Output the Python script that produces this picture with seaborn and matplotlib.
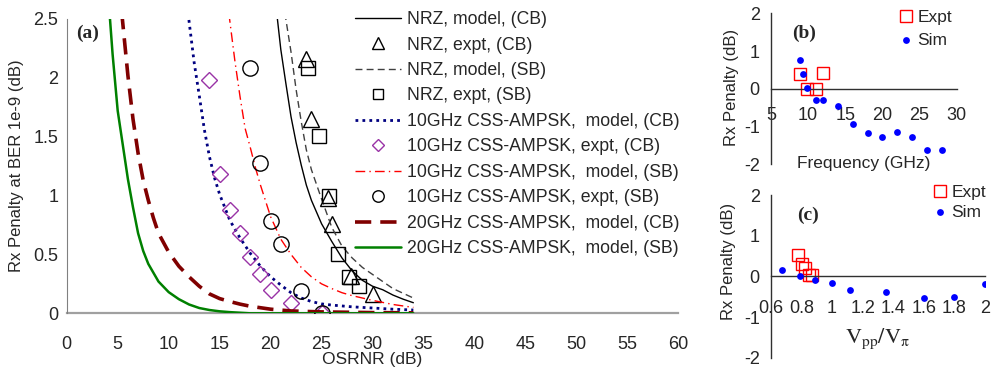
"""
Rx penalty vs OSRNR, plus penalty vs frequency and vs drive level.
"""

import matplotlib
matplotlib.use("Agg")
import matplotlib.pyplot as plt
from matplotlib.ticker import FuncFormatter, MultipleLocator
import seaborn as sns

# ------------------------------
# Data
# ------------------------------
# (a) model curves
osnr_nrz_cb = [20.6, 21, 21.5, 22, 22.5, 23, 23.5, 24, 25, 26, 27, 28, 29, 30, 31, 32, 33, 34]
pen_nrz_cb = [2.55, 2.24, 1.95, 1.67, 1.45, 1.26, 1.09, 0.96, 0.76, 0.61, 0.47, 0.36, 0.28, 0.23, 0.2, 0.155, 0.12, 0.09]

osnr_nrz_sb = [21.4, 22, 22.5, 23, 23.5, 24, 25, 26, 27, 28, 29, 30, 31, 32, 33, 34]
pen_nrz_sb = [2.55, 2.22, 1.9, 1.63, 1.39, 1.22, 0.97, 0.73, 0.57, 0.47, 0.39, 0.33, 0.27, 0.21, 0.17, 0.13]

osnr_10g_cb = [11.9, 12.5, 13, 13.5, 14, 14.5, 15, 16, 17, 18, 19, 20, 21, 22, 23, 24, 25, 26, 28, 30, 32, 34]
pen_10g_cb = [2.55, 2.13, 1.85, 1.56, 1.33, 1.15, 1.01, 0.79, 0.64, 0.51, 0.4, 0.31, 0.24, 0.175, 0.13, 0.1,
              0.08, 0.07, 0.055, 0.045, 0.035, 0.028]

osnr_10g_sb = [15.9, 16.5, 17, 17.5, 18, 18.5, 19, 20, 21, 22, 23, 24, 25, 26, 27, 28, 30, 32, 34]
pen_10g_sb = [2.55, 2.14, 1.84, 1.57, 1.41, 1.24, 1.09, 0.82, 0.63, 0.5, 0.39, 0.31, 0.25, 0.21, 0.175, 0.15,
              0.11, 0.075, 0.05]

osnr_20g_cb = [5.4, 6, 6.5, 7, 7.5, 8, 8.5, 9, 10, 11, 12, 13, 14, 15, 16, 17, 18, 20, 22, 25, 30, 34]
pen_20g_cb = [2.55, 2.02, 1.65, 1.36, 1.13, 0.96, 0.81, 0.68, 0.52, 0.4, 0.31, 0.23, 0.165, 0.125, 0.1,
              0.078, 0.06, 0.035, 0.02, 0.012, 0.006, 0.004]

osnr_20g_sb = [4.2, 4.5, 5, 5.5, 6, 6.5, 7, 7.5, 8, 9, 10, 11, 12, 13, 14, 15, 16, 17, 18, 20, 25, 30, 34]
pen_20g_sb = [2.55, 2.2, 1.72, 1.43, 1.14, 0.9, 0.68, 0.53, 0.42, 0.27, 0.18, 0.12, 0.075, 0.045, 0.028,
              0.017, 0.01, 0.005, 0.0, 0.0, 0.0, 0.0, 0.0]

# (a) measurements
osnr_nrz_cb_expt = [23.5, 24.0, 25.6, 26.0, 27.9, 30.0]
pen_nrz_cb_expt = [2.16, 1.65, 0.98, 0.76, 0.32, 0.16]

osnr_nrz_sb_expt = [23.7, 24.7, 25.7, 26.6, 27.7, 28.7]
pen_nrz_sb_expt = [2.08, 1.51, 1.0, 0.5, 0.31, 0.23]

osnr_10g_cb_expt = [14, 15, 16, 17, 18, 19, 20, 22, 25]
pen_10g_cb_expt = [1.98, 1.18, 0.88, 0.68, 0.48, 0.33, 0.2, 0.09, 0.0]

osnr_10g_sb_expt = [18, 19, 20, 21, 23, 25]
pen_10g_sb_expt = [2.08, 1.28, 0.78, 0.59, 0.19, 0.0]

# (b) penalty vs frequency
freq_sim = [8.9, 9.3, 9.9, 11, 12, 14, 16, 18, 20, 22, 24, 26, 28]
pen_freq_sim = [0.77, 0.38, 0.02, -0.3, -0.3, -0.46, -0.92, -1.18, -1.28, -1.15, -1.28, -1.63, -1.61]
freq_expt = [8.9, 9.9, 11, 12]
pen_freq_expt = [0.4, 0.0, 0.0, 0.42]

# (c) penalty vs Vpp/Vpi
vpp_sim = [0.67, 0.79, 0.89, 1.0, 1.12, 1.35, 1.6, 1.8, 2.0]
pen_vpp_sim = [0.15, 0.01, -0.09, -0.17, -0.33, -0.39, -0.53, -0.5, -0.2]
vpp_expt = [0.775, 0.8, 0.82, 0.85, 0.87]
pen_vpp_expt = [0.52, 0.3, 0.2, 0.03, 0.03]

# ------------------------------
# Style
# ------------------------------
sns.set_style("white")
plt.rcParams["font.family"] = ["Liberation Sans", "DejaVu Sans"]
plt.rcParams["font.size"] = 12
plt.rcParams["mathtext.fontset"] = "stix"

fmt = FuncFormatter(lambda v, _: f"{v:g}")
serif = ["Liberation Serif", "DejaVu Serif"]

fig = plt.figure(figsize=(9.93, 3.68), dpi=100)
ax_a = fig.add_axes([0.0672, 0.1486, 0.616, 0.7998])
ax_b = fig.add_axes([0.7764, 0.5535, 0.187, 0.4104])
ax_c = fig.add_axes([0.7764, 0.028, 0.2155, 0.4421])

# ------------------------------
# (a) main panel
# ------------------------------
open_mk = dict(linestyle="", mfc="none", mew=1.0, errorbar=None, sort=False)

sns.lineplot(x=osnr_nrz_cb, y=pen_nrz_cb, ax=ax_a, color="black", lw=1.0,
             label="NRZ, model, (CB)", errorbar=None)
sns.lineplot(x=osnr_nrz_cb_expt, y=pen_nrz_cb_expt, ax=ax_a, marker="^", ms=11,
             mec="black", color="black", label="NRZ, expt, (CB)", **open_mk)
sns.lineplot(x=osnr_nrz_sb, y=pen_nrz_sb, ax=ax_a, color="#404040", lw=1.0,
             ls=(0, (5, 3)), label="NRZ, model, (SB)", errorbar=None)
sns.lineplot(x=osnr_nrz_sb_expt, y=pen_nrz_sb_expt, ax=ax_a, marker="s", ms=10,
             mec="black", color="black", label="NRZ, expt, (SB)", **open_mk)
sns.lineplot(x=osnr_10g_cb, y=pen_10g_cb, ax=ax_a, color="#000080", lw=2.0,
             ls=(0, (1, 1.5)), label="10GHz CSS-AMPSK,  model, (CB)", errorbar=None)
sns.lineplot(x=osnr_10g_cb_expt, y=pen_10g_cb_expt, ax=ax_a, marker="D", ms=8,
             mec="#9933A6", color="#9933A6", label="10GHz CSS-AMPSK, expt, (CB)", **open_mk)
sns.lineplot(x=osnr_10g_sb, y=pen_10g_sb, ax=ax_a, color="red", lw=1.0,
             ls=(0, (7, 3, 1, 3)), label="10GHz CSS-AMPSK,  model, (SB)", errorbar=None)
sns.lineplot(x=osnr_10g_sb_expt, y=pen_10g_sb_expt, ax=ax_a, marker="o", ms=11,
             mec="black", color="black", label="10GHz CSS-AMPSK, expt, (SB)", **open_mk)
sns.lineplot(x=osnr_20g_cb, y=pen_20g_cb, ax=ax_a, color="#800000", lw=2.6,
             ls=(0, (4.5, 2.5)), label="20GHz CSS-AMPSK,  model, (CB)", errorbar=None)
sns.lineplot(x=osnr_20g_sb, y=pen_20g_sb, ax=ax_a, color="#008000", lw=1.8,
             label="20GHz CSS-AMPSK,  model, (SB)", errorbar=None)

ax_a.set_xlim(0, 60)
ax_a.set_ylim(0, 2.5)
ax_a.xaxis.set_major_locator(MultipleLocator(5))
ax_a.yaxis.set_major_locator(MultipleLocator(0.5))
ax_a.xaxis.set_major_formatter(fmt)
ax_a.yaxis.set_major_formatter(fmt)
for s in ["top", "right"]:
    ax_a.spines[s].set_visible(False)
ax_a.spines["left"].set_color("#808080")
ax_a.spines["bottom"].set_color("#a0a0a0")
ax_a.spines["bottom"].set_linewidth(1.6)
ax_a.spines["bottom"].set_zorder(0)
ax_a.tick_params(axis="x", direction="out", length=5, width=1, color="#404040", pad=11, labelsize=13)
ax_a.tick_params(axis="y", direction="out", length=4, width=1, color="#404040", pad=2, labelsize=13)
ax_a.set_xlabel("OSRNR (dB)", fontsize=12.5)
ax_a.set_ylabel("Rx Penalty at BER 1e-9 (dB)", fontsize=12)
ax_a.xaxis.set_label_coords(0.5, -0.13)
ax_a.yaxis.set_label_coords(-0.07, 0.5)

ax_a.legend(loc="upper left", bbox_to_anchor=(0.3575, 0.97), bbox_transform=fig.transFigure,
            frameon=False, fontsize=12.7, handlelength=2.6, handletextpad=0.35,
            labelspacing=0.48, borderpad=0, borderaxespad=0, markerscale=0.75)
fig.text(88 / 993, 1 - 33 / 368, "(a)", family=serif,
         weight="bold", fontsize=14, ha="center", va="center")


# ------------------------------
# (b) and (c) small panels
# ------------------------------
def small_panel(ax, xs, ys, xe, ye):
    sns.lineplot(x=xe, y=ye, ax=ax, marker="s", ms=8, mec="red", color="red",
                 label="Expt", **open_mk)
    sns.scatterplot(x=xs, y=ys, ax=ax, color="#0000ff", s=24, linewidth=0,
                    label="Sim", zorder=3)
    ax.set_ylim(-2, 2)
    ax.yaxis.set_major_locator(MultipleLocator(1))
    ax.xaxis.set_major_formatter(fmt)
    ax.yaxis.set_major_formatter(fmt)
    ax.spines["top"].set_visible(False)
    ax.spines["right"].set_visible(False)
    ax.spines["bottom"].set_position(("data", 0))
    for s in ["left", "bottom"]:
        ax.spines[s].set_color("#303030")
        ax.spines[s].set_linewidth(1.0)
    ax.tick_params(axis="y", direction="out", length=4, width=1, color="#303030", pad=4, labelsize=13)


small_panel(ax_b, freq_sim, pen_freq_sim, freq_expt, pen_freq_expt)
ax_b.set_xlim(5, 30)
ax_b.xaxis.set_major_locator(MultipleLocator(5))
ax_b.tick_params(axis="x", direction="out", length=4, width=1, color="#303030", pad=9, labelsize=13)
ax_b.set_xlabel("Frequency (GHz)", fontsize=12.5)
ax_b.set_ylabel("Rx Penalty (dB)", fontsize=12)
ax_b.xaxis.set_label_coords(0.5, 0.055)
ax_b.yaxis.set_label_coords(-0.17, 0.51)
ax_b.legend(loc="upper left", bbox_to_anchor=(0.9053, 0.972), bbox_transform=fig.transFigure,
            frameon=False, fontsize=12.5, handlelength=0.8, handletextpad=0.25,
            labelspacing=0.4, borderpad=0, borderaxespad=0)
fig.text(803.7 / 993, 1 - 33.3 / 368, "(b)", family=serif,
         weight="bold", fontsize=14, ha="center", va="center")

small_panel(ax_c, vpp_sim, pen_vpp_sim, vpp_expt, pen_vpp_expt)
ax_c.set_xlim(0.6, 2.0)
ax_c.xaxis.set_major_locator(MultipleLocator(0.2))
ax_c.tick_params(axis="x", direction="out", length=4, width=1, color="#303030", pad=13, labelsize=13)
ax_c.set_xlabel(r"$\mathrm{V_{pp}/V_{\pi}}$", fontsize=16)
ax_c.set_ylabel("Rx Penalty (dB)", fontsize=12)
ax_c.xaxis.set_label_coords(0.5, 0.19)
ax_c.yaxis.set_label_coords(-0.165, 0.59)
ax_c.legend(loc="upper left", bbox_to_anchor=(0.9399, 0.497), bbox_transform=fig.transFigure,
            frameon=False, fontsize=12.5, handlelength=0.8, handletextpad=0.25,
            labelspacing=0.25, borderpad=0, borderaxespad=0)
fig.text(807.5 / 993, 1 - 215.5 / 368, "(c)", family=serif,
         weight="bold", fontsize=14, ha="center", va="center")

fig.savefig("out.png", dpi=100)
plt.close(fig)
